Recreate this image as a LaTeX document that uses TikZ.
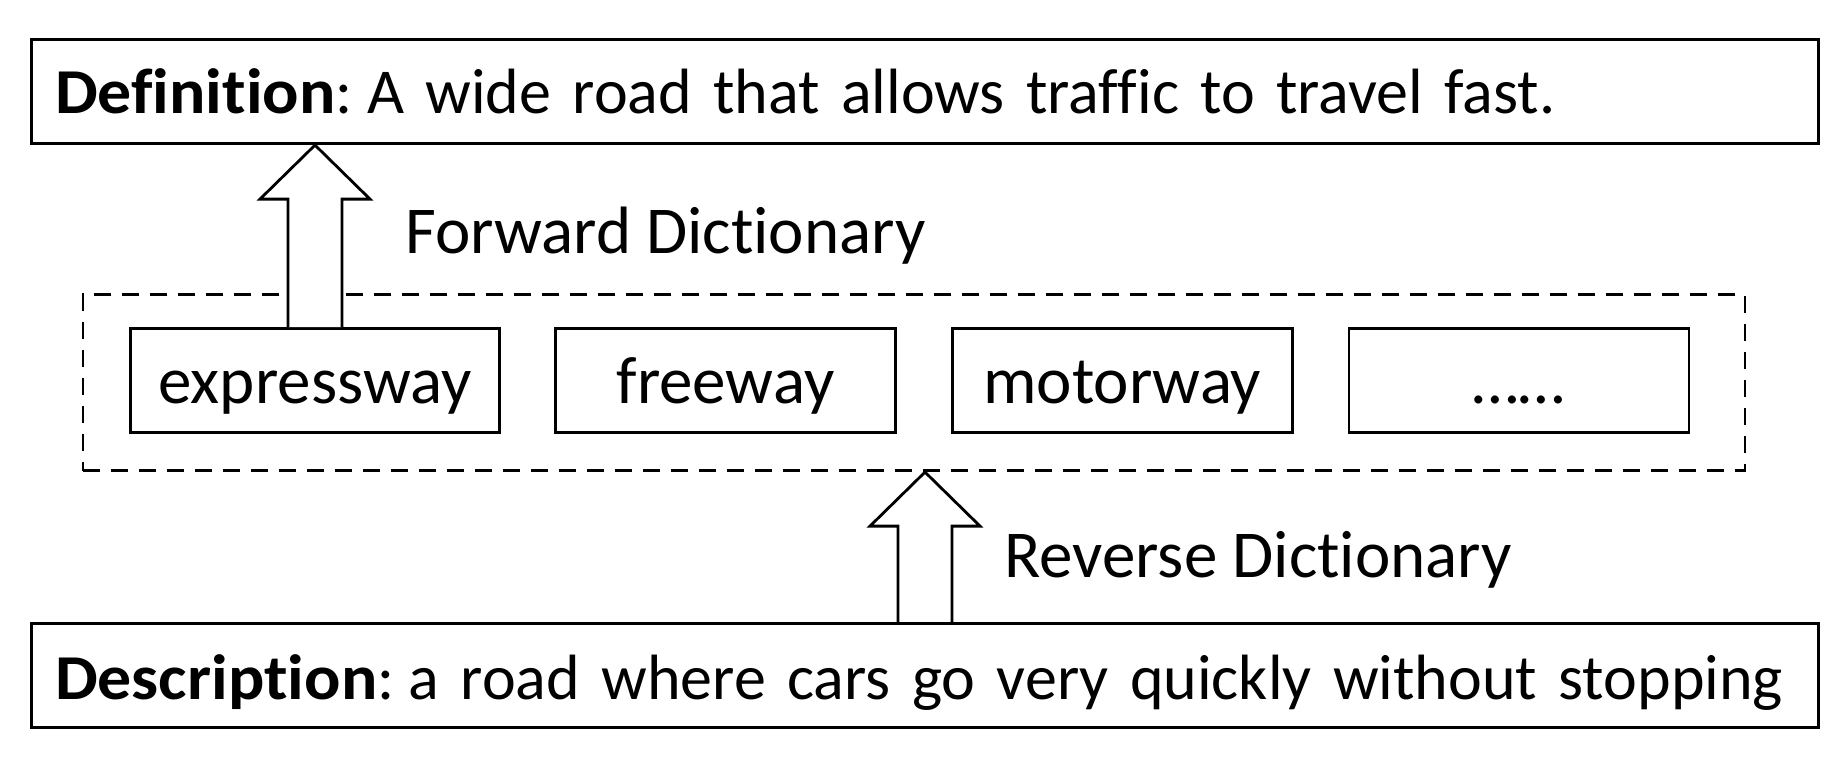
\documentclass[tikz,border=0pt]{standalone}
\usepackage{fontspec}
\setmainfont{Carlito}[Ligatures=NoCommon]
\usetikzlibrary{positioning,calc}

\tikzset{
    textbox/.style={draw, line width=1.4pt, minimum width=893.6pt, minimum height=52.3pt,
        text width=870pt, align=left, inner xsep=11.5pt, inner ysep=0pt,
        text height=24pt, text depth=0pt, font=\fontsize{32}{38}\selectfont},
    wordbox/.style={draw, line width=1.4pt, minimum width=170pt, minimum height=52pt,
        inner sep=0pt, text height=23.5pt, text depth=0pt},
    groupbox/.style={draw, dashed, dash pattern=on 8.5pt off 5.5pt, line width=1.4pt,
        minimum width=831pt, minimum height=88.2pt, inner sep=0pt},
    dictlabel/.style={inner sep=0pt, anchor=base west},
    blockarrow/.style={draw, fill=white, line width=1.4pt, line join=miter},
}

% bold lead word of the two long boxes
\newcommand{\term}[1]{\scalebox{1.06}[1]{\textbf{#1}}:\hspace{-3.5pt}}

% block arrow from #1 (bottom of shaft) up to #2 (tip)
\newcommand{\bigarrow}[2]{
    \draw[blockarrow] ($(#1)+(-13.5pt,0)$) -- ($(#2)+(-13.5pt,-27pt)$)
        -- ($(#2)+(-27.5pt,-27pt)$) -- (#2) -- ($(#2)+(27.5pt,-27pt)$)
        -- ($(#2)+(13.5pt,-27pt)$) -- ($(#1)+(13.5pt,0)$);
}

\begin{document}
\frenchspacing
\begin{tikzpicture}[x=0.5pt, y=-0.5pt, font=\fontsize{33.5}{40}\selectfont]
    \useasboundingbox (0,0) rectangle (1847,771);

    \node[textbox, text height=22pt] (def) at (925,91.4) {\term{Definition} A wide road that allows traffic to travel fast.};
    \node[textbox] (desc) at (925,675.5) {\term{Description} a road where cars go very quickly without stopping};

    \node[groupbox] (group) at (914,382.5) {};
    \node[wordbox, minimum width=184.6pt] (expr) at (315,380.4) {expressway};
    \node[wordbox, right=26.5pt of expr] (free) {freeway};
    \node[wordbox, right=27pt of free] (motor) {motorway};
    \node[wordbox, right=27pt of motor] (dots) {\dots\dots};

    \coordinate (fwdtip) at (def.south -| expr.north);
    \coordinate (revtip) at (group.south -| desc.north);
    \bigarrow{expr.north}{fwdtip}
    \bigarrow{desc.north}{revtip}

    \node[dictlabel] (fwd) at (405,253) {Forward Dictionary};
    \node[dictlabel] (rev) at (1004,577) {Reverse Dictionary};
\end{tikzpicture}
\end{document}
